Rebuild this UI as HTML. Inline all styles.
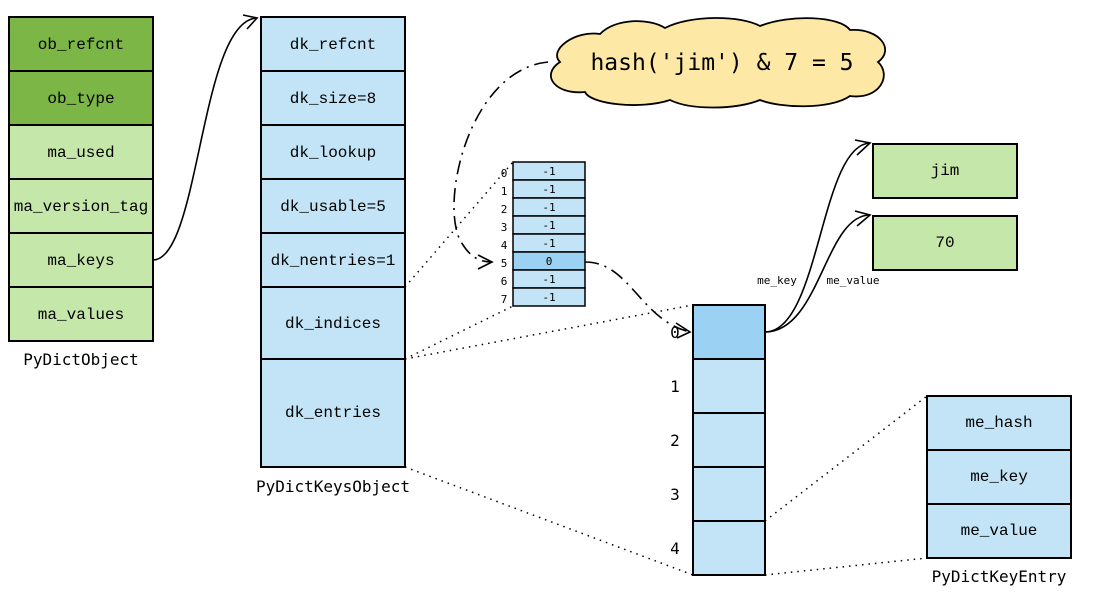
<!DOCTYPE html>
<html><head><meta charset="utf-8"><style>html,body{margin:0;padding:0;background:#fff}svg{display:block}</style></head>
<body>
<svg width="1098" height="610" viewBox="0 0 1098 610" xmlns="http://www.w3.org/2000/svg">
<g stroke="#000" stroke-width="2">
<rect x="9" y="17" width="144" height="54" fill="#7cb647"/>
<rect x="9" y="71" width="144" height="54" fill="#7cb647"/>
<rect x="9" y="125" width="144" height="54" fill="#c6e7aa"/>
<rect x="9" y="179" width="144" height="54" fill="#c6e7aa"/>
<rect x="9" y="233" width="144" height="54" fill="#c6e7aa"/>
<rect x="9" y="287" width="144" height="54" fill="#c6e7aa"/>
<rect x="261" y="17" width="144" height="54" fill="#c2e4f6"/>
<rect x="261" y="71" width="144" height="54" fill="#c2e4f6"/>
<rect x="261" y="125" width="144" height="54" fill="#c2e4f6"/>
<rect x="261" y="179" width="144" height="54" fill="#c2e4f6"/>
<rect x="261" y="233" width="144" height="54" fill="#c2e4f6"/>
<rect x="261" y="287" width="144" height="72" fill="#c2e4f6"/>
<rect x="261" y="359" width="144" height="108" fill="#c2e4f6"/>
<g stroke-width="1.5">
<rect x="513" y="162" width="72" height="18" fill="#c2e4f6"/>
<rect x="513" y="180" width="72" height="18" fill="#c2e4f6"/>
<rect x="513" y="198" width="72" height="18" fill="#c2e4f6"/>
<rect x="513" y="216" width="72" height="18" fill="#c2e4f6"/>
<rect x="513" y="234" width="72" height="18" fill="#c2e4f6"/>
<rect x="513" y="252" width="72" height="18" fill="#9bd1f2"/>
<rect x="513" y="270" width="72" height="18" fill="#c2e4f6"/>
<rect x="513" y="288" width="72" height="18" fill="#c2e4f6"/>
</g>
<rect x="693" y="305" width="72" height="54" fill="#9bd1f2"/>
<rect x="693" y="359" width="72" height="54" fill="#c2e4f6"/>
<rect x="693" y="413" width="72" height="54" fill="#c2e4f6"/>
<rect x="693" y="467" width="72" height="54" fill="#c2e4f6"/>
<rect x="693" y="521" width="72" height="54" fill="#c2e4f6"/>
<rect x="873" y="144" width="144" height="54" fill="#c6e7aa"/>
<rect x="873" y="216" width="144" height="54" fill="#c6e7aa"/>
<rect x="927" y="396" width="144" height="54" fill="#c2e4f6"/>
<rect x="927" y="450" width="144" height="54" fill="#c2e4f6"/>
<rect x="927" y="504" width="144" height="54" fill="#c2e4f6"/>
</g>
<path d="M560,62 C548,50 575,30 600,34 C615,18 650,18 665,28 C690,15 740,15 760,26 C790,14 840,16 850,30 C880,28 895,50 878,62 C892,75 880,100 850,96 C830,110 780,108 760,100 C735,110 690,110 670,100 C640,110 590,104 585,92 C555,95 540,75 560,62 Z" fill="#fde9a5" stroke="#000" stroke-width="1.8"/>
<text x="722" y="70" font-family="DejaVu Sans Mono, monospace" font-size="23" text-anchor="middle">hash('jim') &amp; 7 = 5</text>
<g fill="none" stroke="#000" stroke-width="1.6">
<path d="M153,260 C200,260 200,20 257,18"/>
<path d="M243,15 L257,18 L247,29"/>
<path d="M765,332 C820,332 820,145 870,143"/>
<path d="M855,140 L870,143 L857,155"/>
<path d="M765,332 C820,332 825,215 870,215"/>
<path d="M855,211 L870,215 L857,226"/>
<path d="M548,62 C470,70 440,200 460,240 C470,258 480,262 492,262" stroke-dasharray="14,6,2,6"/>
<path d="M478,255 L492,262 L478,269"/>
<path d="M585,262 C630,262 640,320 690,332" stroke-dasharray="14,6,2,6"/>
<path d="M676,323 L690,332 L677,338"/>
<g stroke-dasharray="1.5,5" stroke-width="1.5">
<path d="M405,287 L513,162"/>
<path d="M405,359 L513,306"/>
<path d="M405,359 L693,305"/>
<path d="M405,467 L693,575"/>
<path d="M765,521 L927,396"/>
<path d="M765,575 L927,558"/>
</g>
</g>
<g font-family="Liberation Mono, monospace" font-size="16" text-anchor="middle">
<text x="81" y="49">ob_refcnt</text>
<text x="81" y="103">ob_type</text>
<text x="81" y="157">ma_used</text>
<text x="81" y="211">ma_version_tag</text>
<text x="81" y="265">ma_keys</text>
<text x="81" y="319">ma_values</text>
<text x="333" y="49">dk_refcnt</text>
<text x="333" y="103">dk_size=8</text>
<text x="333" y="157">dk_lookup</text>
<text x="333" y="211">dk_usable=5</text>
<text x="333" y="265">dk_nentries=1</text>
<text x="333" y="328">dk_indices</text>
<text x="333" y="417">dk_entries</text>
<text x="945" y="175">jim</text>
<text x="945" y="247">70</text>
<text x="999" y="427">me_hash</text>
<text x="999" y="481">me_key</text>
<text x="999" y="535">me_value</text>
</g>
<g font-family="DejaVu Sans Mono, monospace" font-size="16" text-anchor="middle">
<text x="81" y="365">PyDictObject</text>
<text x="333" y="492">PyDictKeysObject</text>
<text x="999" y="582">PyDictKeyEntry</text>
<text x="675" y="338">0</text>
<text x="675" y="392">1</text>
<text x="675" y="446">2</text>
<text x="675" y="500">3</text>
<text x="675" y="554">4</text>
</g>
<g font-family="DejaVu Sans Mono, monospace" font-size="11" text-anchor="middle">
<text x="549" y="175">-1</text><text x="549" y="193">-1</text><text x="549" y="211">-1</text><text x="549" y="229">-1</text><text x="549" y="247">-1</text><text x="549" y="265">0</text><text x="549" y="283">-1</text><text x="549" y="301">-1</text>
<text x="504" y="177">0</text><text x="504" y="195">1</text><text x="504" y="213">2</text><text x="504" y="231">3</text><text x="504" y="249">4</text><text x="504" y="267">5</text><text x="504" y="285">6</text><text x="504" y="303">7</text>
<text x="777" y="284">me_key</text>
<text x="853" y="284">me_value</text>
</g>
</svg>
</body></html>
